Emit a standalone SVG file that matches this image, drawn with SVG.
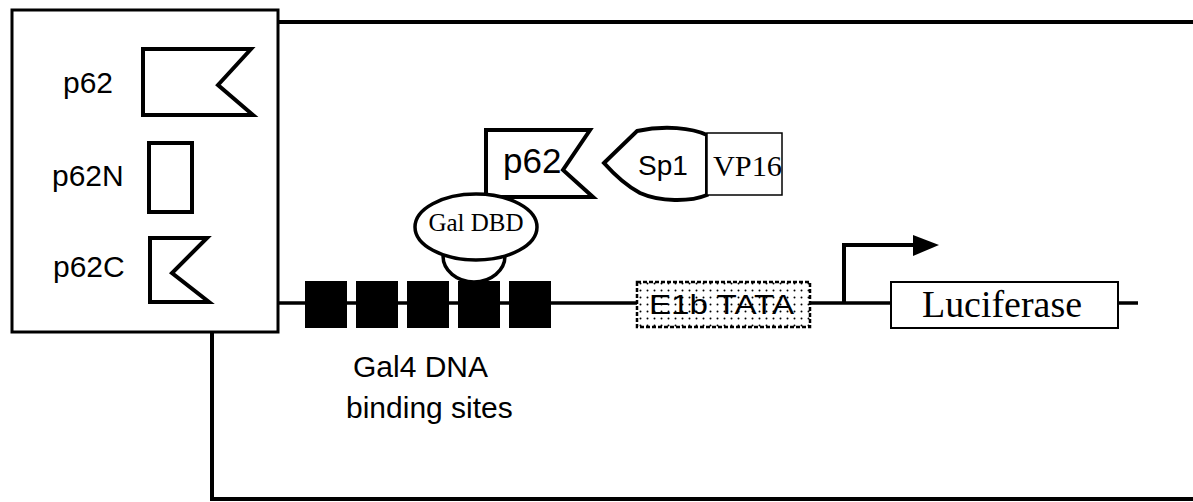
<svg xmlns="http://www.w3.org/2000/svg" width="1193" height="502" viewBox="0 0 1193 502">
<style>
.sans{font-family:"Liberation Sans",Arial,sans-serif;fill:#000}
.serif{font-family:"Liberation Serif","Times New Roman",serif;fill:#000}
.thick{fill:#fff;stroke:#000;stroke-width:4;stroke-linejoin:miter}
.line{fill:none;stroke:#000;stroke-width:4}
.site{fill:#000}
</style>
<defs>
<pattern id="dots" width="7" height="7" patternUnits="userSpaceOnUse">
<rect width="7" height="7" fill="#fff"/>
<circle cx="3.5" cy="3.5" r="1" fill="#000"/>
</pattern>
</defs>
<g id="connectors">
<line class="line" x1="278" y1="22" x2="1193" y2="22"/>
<polyline class="line" points="212,332 212,499 1193,499"/>
<line x1="278" y1="303" x2="1138" y2="303" stroke="#000" stroke-width="3.5"/>
<polyline class="line" points="844,303 844,245 914,245" stroke-width="2.5"/>
<polygon points="913,235 939,245 913,256" fill="#000"/>
</g>
<g id="legend-box">
<rect x="12" y="10" width="266" height="322" fill="#fff" stroke="#000" stroke-width="3"/>
</g>
<g id="legend-p62">
<text class="sans" x="63" y="93" font-size="30">p62</text>
<path class="thick" d="M143,49 L251,49 L218,85 L253,115 L143,115 Z"/>
</g>
<g id="legend-p62N">
<text class="sans" x="52" y="186" font-size="30">p62N</text>
<rect class="thick" x="149" y="143" width="43" height="69" stroke-width="3.5"/>
</g>
<g id="legend-p62C">
<text class="sans" x="53" y="277" font-size="30">p62C</text>
<path class="thick" d="M150,238 L207,238 L172,273 L209,302 L150,302 Z"/>
</g>
<g id="gal4-sites">
<rect class="site" x="305" y="281" width="42" height="47"/>
<rect class="site" x="356" y="281" width="42" height="47"/>
<rect class="site" x="407" y="281" width="42" height="47"/>
<rect class="site" x="458" y="281" width="42" height="47"/>
<rect class="site" x="509" y="281" width="42" height="47"/>
<text class="sans" x="353" y="377" font-size="30">Gal4 DNA</text>
<text class="sans" x="346" y="418" font-size="30">binding sites</text>
</g>
<g id="p62-fusion">
<path class="thick" d="M486,130 L590,130 L563,170 L593,197 L486,197 Z"/>
<text class="sans" x="503" y="173" font-size="35">p62</text>
</g>
<g id="gal-dbd">
<path d="M443,256 A31,26 0 0 0 505,256" fill="#fff" stroke="#000" stroke-width="3.5"/>
<ellipse cx="476" cy="227" rx="61" ry="33" fill="#fff" stroke="#000" stroke-width="3.5"/>
<text class="serif" x="476" y="231" font-size="25" text-anchor="middle">Gal DBD</text>
</g>
<g id="sp1-vp16">
<path class="thick" d="M604,163 L637,131 C665,125 692,128 707,135 L707,195 C690,202 660,202 640,193 C625,185 612,172 604,163 Z"/>
<text class="sans" x="638" y="175" font-size="28">Sp1</text>
<rect x="707" y="133" width="75" height="62" fill="#fff" stroke="#000" stroke-width="1.5"/>
<text class="serif" x="713" y="176" font-size="30" textLength="69" lengthAdjust="spacingAndGlyphs">VP16</text>
</g>
<g id="e1b-tata">
<rect x="637" y="282" width="173" height="45" fill="url(#dots)" stroke="#000" stroke-width="2.5" stroke-dasharray="4 2"/>
<text class="sans" x="649" y="314" font-size="28" textLength="145" lengthAdjust="spacingAndGlyphs">E1b TATA</text>
</g>
<g id="luciferase">
<rect x="891" y="282" width="227" height="46" fill="#fff" stroke="#000" stroke-width="2"/>
<text class="serif" x="922" y="317" font-size="38" textLength="160" lengthAdjust="spacingAndGlyphs">Luciferase</text>
</g>
</svg>
